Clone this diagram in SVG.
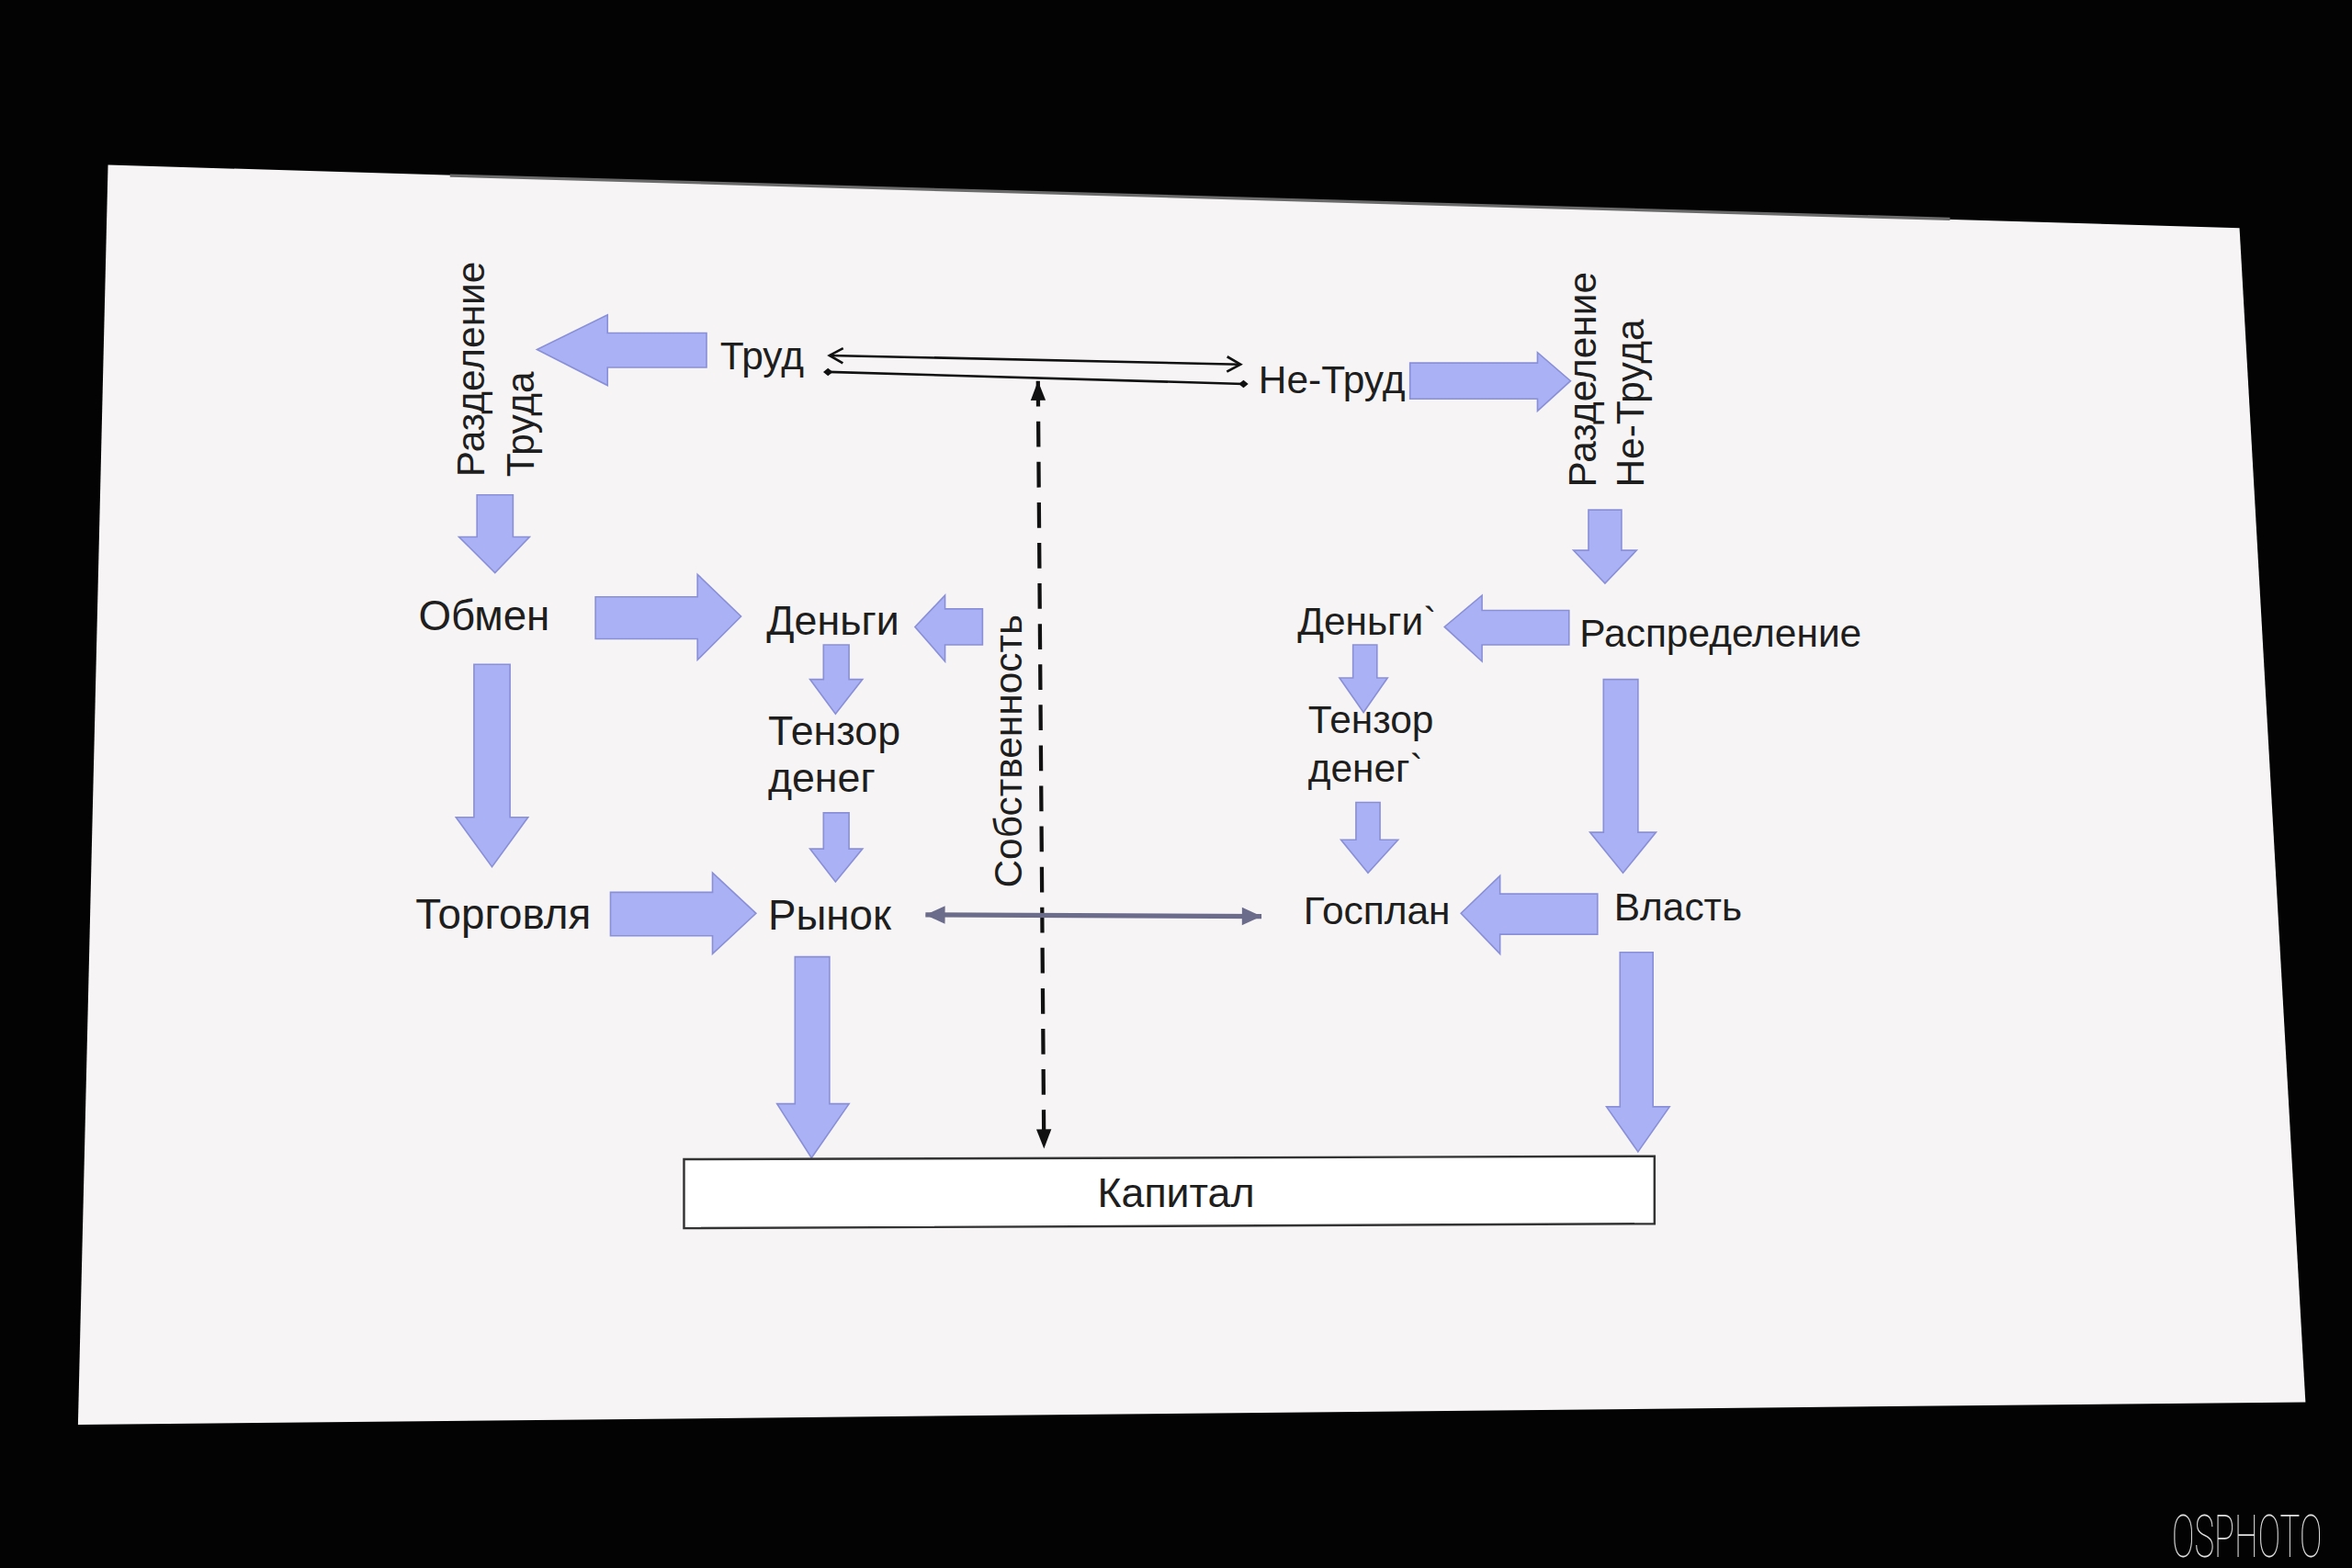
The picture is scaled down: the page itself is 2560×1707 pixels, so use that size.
<svg xmlns="http://www.w3.org/2000/svg" width="2560" height="1707" viewBox="0 0 2560 1707">
<style>
.t{font-family:"Liberation Sans",Arial,sans-serif;font-size:26px;fill:#1e1e1e}
.l{font-size:28px}
.m{font-size:27.4px}
.ba{fill:#aab1f5;stroke:#8a90d8;stroke-width:1}
.thin{stroke:#111;stroke-width:1.6;fill:none}
.dash{stroke:#111;stroke-width:2.6;fill:none;stroke-dasharray:17 10}
.gr{stroke:#6b6b8c;stroke-width:3.2;fill:none}
</style>
<defs>
<marker id="open" viewBox="-11 -7 13 14" refX="0" refY="0" markerWidth="13" markerHeight="14" orient="auto-start-reverse" markerUnits="userSpaceOnUse"><path d="M-9,-5 L0,0 L-9,5" fill="none" stroke="#111" stroke-width="1.6"/></marker>
<marker id="dot" viewBox="-4 -4 8 8" refX="0" refY="0" markerWidth="8" markerHeight="8" markerUnits="userSpaceOnUse"><path d="M-3.2,0 L0,-2.6 L3.2,0 L0,2.6Z" fill="#111"/></marker>
<marker id="blk" viewBox="-14 -7 15 14" refX="0" refY="0" markerWidth="15" markerHeight="14" orient="auto-start-reverse" markerUnits="userSpaceOnUse"><path d="M-13,-5 L0,0 L-13,5 Z" fill="#111"/></marker>
<marker id="gry" viewBox="-14 -8 15 16" refX="0" refY="0" markerWidth="15" markerHeight="16" orient="auto-start-reverse" markerUnits="userSpaceOnUse"><path d="M-13,-6 L0,0 L-13,6 Z" fill="#6b6b8c"/></marker>
</defs>
<rect width="2560" height="1707" fill="#030303"/>
<g transform="scale(1.632653)">
<polygon id="slide" points="72,110 1493,152 1537,935 52,950" fill="#f6f4f4"/>
<line x1="300" y1="117" x2="1300" y2="146" stroke="#6a6a6a" stroke-width="2"/>

<g id="connectors">
<polygon class="ba" points="471,222 405,222 405,210 358,233 405,257 405,245 471,245"/>
<polygon class="ba" points="318,330 342,330 342,358 353,358 330,382 306,358 318,358"/>
<polygon class="ba" points="397,398 465,398 465,383 494,411 465,440 465,426 397,426"/>
<polygon class="ba" points="316,443 340,443 340,545 352,545 328,578 304,545 316,545"/>
<polygon class="ba" points="549,430 566,430 566,453 575,453 557,476 540,453 549,453"/>
<polygon class="ba" points="655,406 630,406 630,397 610,418 630,441 630,430 655,430"/>
<polygon class="ba" points="549,542 566,542 566,566 575,566 557,588 540,566 549,566"/>
<polygon class="ba" points="407,595 475,595 475,582 504,609 475,636 475,624 407,624"/>
<polygon class="ba" points="530,638 553,638 553,736 566,736 541,772 518,736 530,736"/>
<polygon class="ba" points="940,242 1025,242 1025,235 1047,254 1025,274 1025,266 940,266"/>
<polygon class="ba" points="1059,340 1081,340 1081,367 1091,367 1070,389 1049,367 1059,367"/>
<polygon class="ba" points="1046,407 988,407 988,397 963,418 988,441 988,430 1046,430"/>
<polygon class="ba" points="1069,453 1092,453 1092,555 1104,555 1082,582 1060,555 1069,555"/>
<polygon class="ba" points="902,430 918,430 918,452 925,452 909,475 893,452 902,452"/>
<polygon class="ba" points="904,535 920,535 920,560 932,560 912,582 894,560 904,560"/>
<polygon class="ba" points="1065,596 1000,596 1000,584 974,609 1000,636 1000,623 1065,623"/>
<polygon class="ba" points="1080,635 1102,635 1102,738 1113,738 1092,768 1071,738 1080,738"/>

<line class="thin" x1="553" y1="237" x2="827" y2="243" marker-start="url(#open)" marker-end="url(#open)"/>
<line class="thin" x1="552" y1="248" x2="829" y2="256" marker-start="url(#dot)" marker-end="url(#dot)"/>
<line class="dash" x1="692" y1="254" x2="696" y2="766" marker-start="url(#blk)" marker-end="url(#blk)"/>
<line class="gr" x1="617" y1="610" x2="841" y2="611" marker-start="url(#gry)" marker-end="url(#gry)"/>
</g>

<g id="trud"><text class="t" x="480" y="246" font-size="27">Труд</text></g>
<g id="ne-trud"><text class="t" x="839" y="262">Не-Труд</text></g>
<g id="razdelenie-truda"><text class="t" font-size="27" transform="translate(323,318) rotate(-90)"><tspan x="0" y="0">Разделение</tspan><tspan x="0" y="33">Труда</tspan></text></g>
<g id="razdelenie-ne-truda"><text class="t" transform="translate(1064,325) rotate(-90)"><tspan x="0" y="0">Разделение</tspan><tspan x="0" y="32">Не-Труда</tspan></text></g>
<g id="obmen"><text class="t l" x="279" y="420">Обмен</text></g>
<g id="dengi"><text class="t m" x="511" y="423">Деньги</text></g>
<g id="tenzor"><text class="t m" x="512" y="497">Тензор</text><text class="t m" x="512" y="528">денег</text></g>
<g id="torgovlya"><text class="t l" x="277" y="619">Торговля</text></g>
<g id="rynok"><text class="t l" x="512" y="620">Рынок</text></g>
<g id="sobstvennost"><text class="t" font-size="27" transform="translate(681,592) rotate(-90)">Собственность</text></g>
<g id="dengi2"><text class="t" x="865" y="423">Деньги`</text></g>
<g id="raspredelenie"><text class="t" x="1053" y="431">Распределение</text></g>
<g id="tenzor2"><text class="t" x="872" y="489">Тензор</text><text class="t" x="872" y="521">денег`</text></g>
<g id="gosplan"><text class="t" x="869" y="616">Госплан</text></g>
<g id="vlast"><text class="t" x="1076" y="614">Власть</text></g>
<g id="kapital"><polygon points="456,773 1103,771 1103,816 456,819" fill="#ffffff" stroke="#333" stroke-width="1.5"/><text class="t m" x="784" y="805" text-anchor="middle">Капитал</text></g>
<text transform="translate(1448,1038) scale(0.56,1)" font-family="Roboto,sans-serif" font-weight="100" font-size="40" fill="#e0e0e0">OSPHOTO</text>
</g>
</svg>
